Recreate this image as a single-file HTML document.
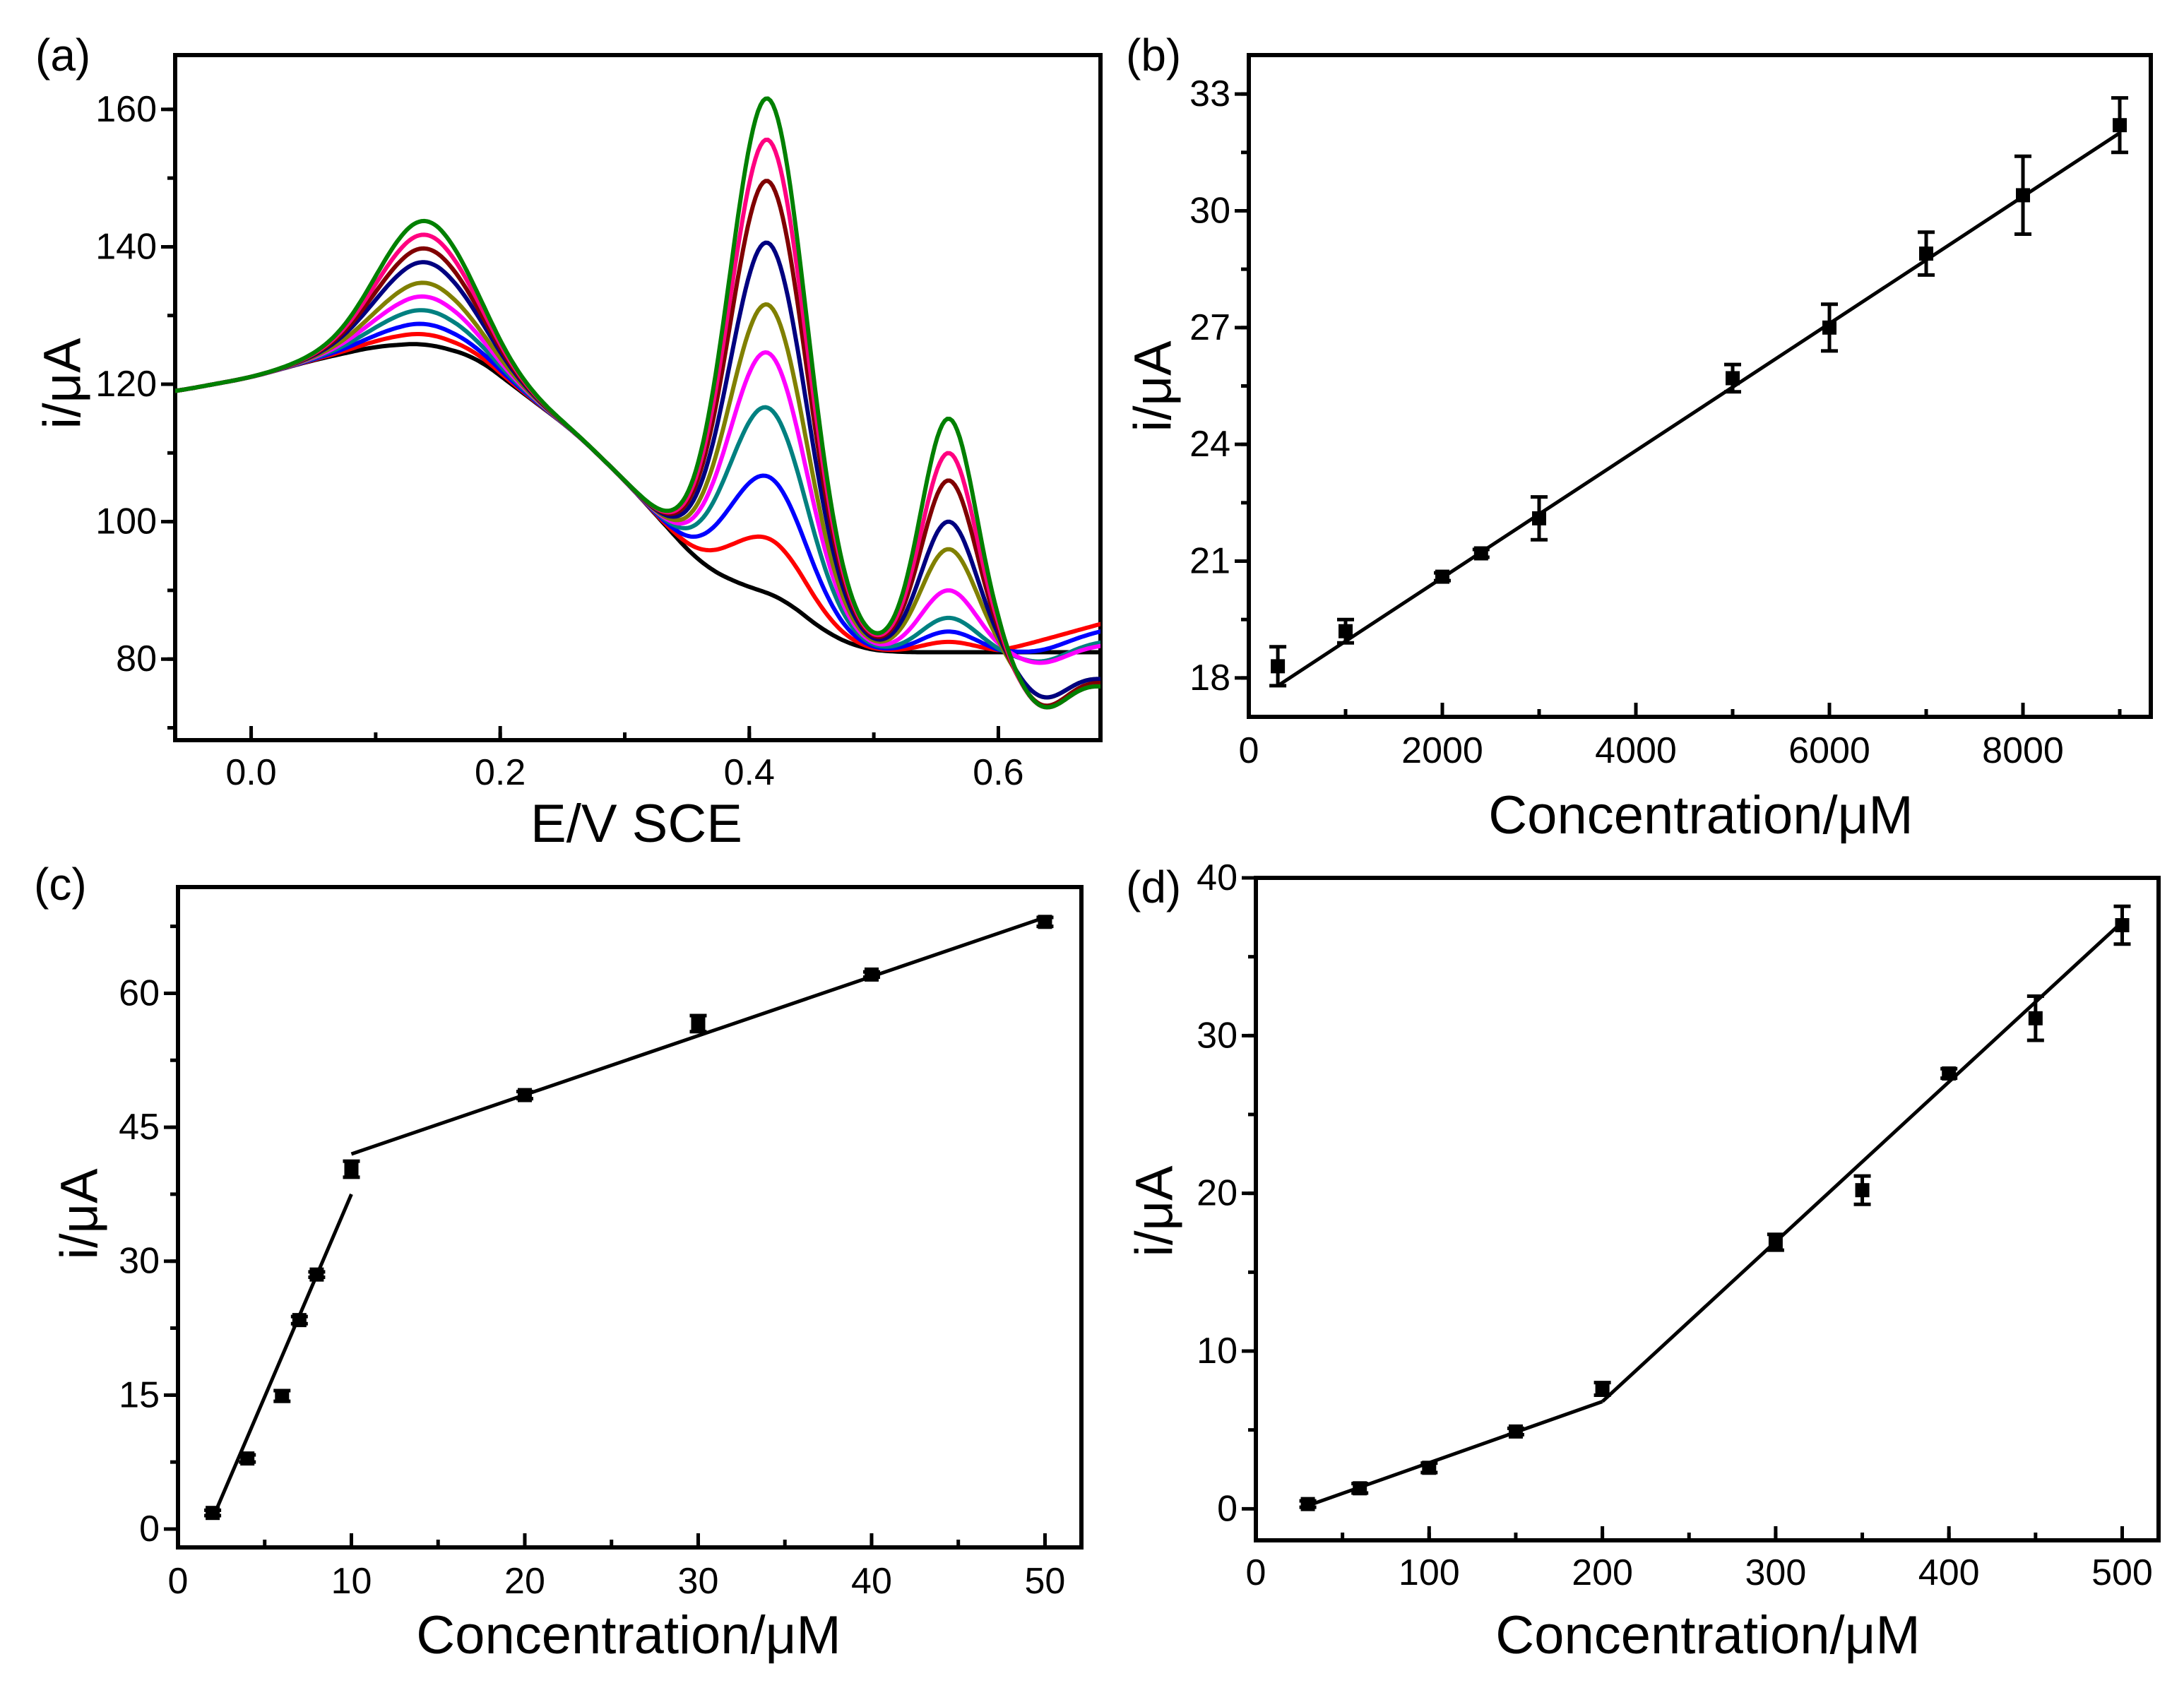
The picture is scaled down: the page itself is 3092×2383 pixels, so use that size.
<!DOCTYPE html>
<html><head><meta charset="utf-8"><title>Electrochemical panels</title>
<style>html,body{margin:0;padding:0;background:#fff}svg{display:block}text{font-family:"Liberation Sans",Arial,sans-serif;fill:#000}</style>
</head><body>
<svg id="fig" xmlns="http://www.w3.org/2000/svg" width="3092" height="2383" viewBox="0 0 3092 2383">
<rect width="3092" height="2383" fill="#fff"/>
<defs>
<clipPath id="clipA"><rect x="248" y="78" width="1310" height="970"/></clipPath>
</defs>
</svg>
<script>
// ---------- Panel (a) data ----------
const aBaseX = [-0.07,-0.06,0,0.05,0.1,0.14,0.18,0.22,0.26,0.3,0.33,0.36,0.39,0.41,0.43,0.46,0.49,0.52,0.6,0.7];
const aBaseY = [118.8,119,121,123.5,125.5,126,124,118.5,113,106,100,94,91,90,88.5,84,81.5,81,81,81];
const aCurveNames = ["black","red","blue","teal","magenta","olive","navy","darkred","pink","green"];
const aColors = ["#000000","#ff0000","#0000ff","#008080","#ff00ff","#808000","#000080","#800000","#ff0080","#008000"];
const aPeak1 = [0,1.5,3,5,7,9,12,14,16,18];
const aPeak2 = [0,8,17,27,35,42,51,60,66,72];
const aPeak3 = [0,1.5,3,5,9,15,19,25,29,34];
const aTail = [0,4,3,1.5,1,-3.5,-3.5,-4,-4.5,-4.5];
const aDip = [0,0,1,2,2,5,5,6,6,6];
const aXTicks = [0.0,0.2,0.4,0.6];
const aXTickLabels = ["0.0","0.2","0.4","0.6"];
const aYTicks = [80,100,120,140,160];
const aYTickLabels = ["80","100","120","140","160"];

// ---------- Panel (b) data ----------
const bX = [300,1000,2000,2400,3000,5000,6000,7000,8000,9000];
const bY = [18.3,19.2,20.6,21.2,22.1,25.7,27.0,28.9,30.4,32.2];
const bErr = [0.5,0.3,0.1,0.1,0.55,0.35,0.6,0.55,1.0,0.7];
const bFitX = [300,9000];
const bFitY = [17.8,32.0];
const bXTicks = [0,2000,4000,6000,8000];
const bXTickLabels = ["0","2000","4000","6000","8000"];
const bYTicks = [18,21,24,27,30,33];
const bYTickLabels = ["18","21","24","27","30","33"];

// ---------- Panel (c) data ----------
const cX = [2,4,6,7,8,10,20,30,40,50];
const cY = [1.8,7.9,14.9,23.4,28.5,40.3,48.6,56.6,62.1,68.0];
const cErr = [0.3,0.4,0.6,0.4,0.3,0.9,0.4,0.9,0.3,0.5];
const cFit1X = [2,10];
const cFit1Y = [1.2,37.5];
const cFit2X = [10,50];
const cFit2Y = [42,68.5];
const cXTicks = [0,10,20,30,40,50];
const cXTickLabels = ["0","10","20","30","40","50"];
const cYTicks = [0,15,30,45,60];
const cYTickLabels = ["0","15","30","45","60"];

// ---------- Panel (d) data ----------
const dX = [30,60,100,150,200,300,350,400,450,500];
const dY = [0.3,1.3,2.6,4.9,7.6,16.9,20.2,27.6,31.1,37.0];
const dErr = [0.2,0.3,0.3,0.2,0.4,0.5,0.9,0.3,1.4,1.2];
const dFit1X = [30,200];
const dFit1Y = [0.2,6.8];
const dFit2X = [200,500];
const dFit2Y = [6.8,37.2];
const dXTicks = [0,100,200,300,400,500];
const dXTickLabels = ["0","100","200","300","400","500"];
const dYTicks = [0,10,20,30,40];
const dYTickLabels = ["0","10","20","30","40"];

const NS = "http://www.w3.org/2000/svg";
const svg = document.getElementById("fig");
function mk(tag, attrs, parent) {
  const e = document.createElementNS(NS, tag);
  for (const k in attrs) e.setAttribute(k, attrs[k]);
  (parent || svg).appendChild(e);
  return e;
}
function linScale(d0, d1, r0, r1) { return v => r0 + (v - d0) * (r1 - r0) / (d1 - d0); }

function drawAxes(p) {
  const g = mk("g", {});
  
  
  const sx = linScale(p.xmin, p.xmax, p.L, p.R);
  const sy = linScale(p.ymin, p.ymax, p.B, p.T);
  for (let v = p.xMinorStart; v <= p.xmax + 1e-9; v += p.xMinor) {
    const x = sx(v);
    if (x <= p.L + 2 || x >= p.R - 2) continue;
    const t = mk("line", {x1:x, x2:x, y1:p.B, y2:p.B-11, stroke:"#000", "stroke-width":5}, g);
    
    
  }
  for (let v = p.yMinorStart; v <= p.ymax + 1e-9; v += p.yMinor) {
    const y = sy(v);
    if (y >= p.B - 2 || y <= p.T + 2) continue;
    const t = mk("line", {x1:p.L, x2:p.L-11, y1:y, y2:y, stroke:"#000", "stroke-width":5}, g);
    
    
  }
  p.xTicks.forEach((v, i) => {
    const x = sx(v);
    const t = mk("line", {x1:x, x2:x, y1:p.B, y2:p.B-20, stroke:"#000", "stroke-width":5}, g);
    
    
    const tx = mk("text", {x:x, y:p.xLabelY, "font-size":52, "text-anchor":"middle", "dominant-baseline":"central"}, g);
    tx.textContent = p.xTickLabels[i];
    
    
  });
  p.yTicks.forEach((v, i) => {
    const y = sy(v);
    const t = mk("line", {x1:p.L, x2:p.L-20, y1:y, y2:y, stroke:"#000", "stroke-width":5}, g);
    
    
    const tx = mk("text", {x:p.L-26, y:y, "font-size":52, "text-anchor":"end", "dominant-baseline":"central"}, g);
    tx.textContent = p.yTickLabels[i];
    
    
  });
  const fr = mk("rect", {x:p.L, y:p.T, width:p.R-p.L, height:p.B-p.T, fill:"none", stroke:"#000", "stroke-width":6}, g);
  
  
  const xt = mk("text", {x:p.xTitleX, y:p.xTitleY, "font-size":p.xTitleSize, "text-anchor":"middle"}, g);
  xt.textContent = p.xTitle;
  
  
  const yt = mk("text", {x:0, y:0, "font-size":74, "text-anchor":"middle", "dominant-baseline":"central", transform:`translate(${p.yTitleX},${p.yTitleY}) rotate(-90)`}, g);
  yt.textContent = "i/μA";
  
  
  const pl = mk("text", {x:p.tagX, y:p.tagY, "font-size":64}, g);
  pl.textContent = "(" + p.id + ")";
  
  
  return {g, sx, sy};
}

function drawScatter(ax, xs, ys, errs) {
  xs.forEach((v, i) => {
    const x = ax.sx(v), y = ax.sy(ys[i]);
    const y1 = ax.sy(ys[i] - errs[i]), y2 = ax.sy(ys[i] + errs[i]);
    const eb = mk("path", {d:`M${x},${y1}V${y2}M${x-12},${y1}H${x+12}M${x-12},${y2}H${x+12}`, stroke:"#000", "stroke-width":5, fill:"none"}, ax.g);
    
    
    const m = mk("rect", {x:x-10, y:y-10, width:20, height:20, fill:"#000"}, ax.g);
    
    
  });
}
function drawFit(ax, xs, ys) {
  const l = mk("line", {x1:ax.sx(xs[0]), y1:ax.sy(ys[0]), x2:ax.sx(xs[1]), y2:ax.sy(ys[1]), stroke:"#000", "stroke-width":5}, ax.g);
  
  
}

// Panel a
const A = drawAxes({id:"a", L:248, R:1558, T:78, B:1048, xmin:-0.061, xmax:0.682, ymin:68.2, ymax:167.9,
  xTicks:aXTicks, xTickLabels:aXTickLabels, yTicks:aYTicks, yTickLabels:aYTickLabels,
  xMinor:0.1, xMinorStart:-0.1, yMinor:10, yMinorStart:70, xLabelY:1094,
  xTitle:"E/V SCE", xTitleX:901, xTitleY:1192, xTitleSize:76, yTitleX:88, yTitleY:543, tagX:50, tagY:100});
function interpBase(x) {
  for (let i = 0; i < aBaseX.length - 1; i++) {
    if (x <= aBaseX[i+1]) { const t = (x - aBaseX[i]) / (aBaseX[i+1] - aBaseX[i]); return aBaseY[i] + t * (aBaseY[i+1] - aBaseY[i]); }
  }
  return aBaseY[aBaseY.length-1];
}
function smoothBase(x) {
  let s = 0, n = 0;
  for (let d = -0.015; d <= 0.0151; d += 0.003) { s += interpBase(x + d); n++; }
  return s / n;
}
const gauss = (x, m, s) => Math.exp(-0.5 * ((x - m) / s) ** 2);
const cg = mk("g", {"clip-path":"url(#clipA)"}, A.g);


aCurveNames.forEach((name, k) => {
  let d = "";
  for (let x = -0.065; x <= 0.69; x += 0.002) {
    const y = smoothBase(x) + aPeak1[k]*gauss(x,0.14,0.038) + aPeak2[k]*gauss(x,0.415,0.031) + aPeak3[k]*gauss(x,0.56,0.022)
      - aDip[k]*gauss(x,0.635,0.02) + aTail[k]*Math.max(0,(x-0.6)/0.08);
    d += (d ? "L" : "M") + A.sx(x).toFixed(1) + "," + A.sy(y).toFixed(1);
  }
  const p = mk("path", {d:d, fill:"none", stroke:aColors[k], "stroke-width":6, "stroke-linejoin":"round"}, cg);
  
  
});

// Panel b
const Bx = drawAxes({id:"b", L:1768, R:3045, T:78, B:1015, xmin:0, xmax:9321, ymin:17, ymax:34,
  xTicks:bXTicks, xTickLabels:bXTickLabels, yTicks:bYTicks, yTickLabels:bYTickLabels,
  xMinor:1000, xMinorStart:1000, yMinor:1.5, yMinorStart:16.5, xLabelY:1063,
  xTitle:"Concentration/μM", xTitleX:2408, xTitleY:1180, xTitleSize:76, yTitleX:1632, yTitleY:547, tagX:1594, tagY:100});
drawFit(Bx, bFitX, bFitY);
drawScatter(Bx, bX, bY, bErr);

// Panel c
const Cx = drawAxes({id:"c", L:252, R:1531, T:1256, B:2191, xmin:0, xmax:52.1, ymin:-2.06, ymax:71.9,
  xTicks:cXTicks, xTickLabels:cXTickLabels, yTicks:cYTicks, yTickLabels:cYTickLabels,
  xMinor:5, xMinorStart:5, yMinor:7.5, yMinorStart:7.5, xLabelY:2239,
  xTitle:"Concentration/μM", xTitleX:890, xTitleY:2341, xTitleSize:76, yTitleX:112, yTitleY:1719, tagX:48, tagY:1274});
drawFit(Cx, cFit1X, cFit1Y);
drawFit(Cx, cFit2X, cFit2Y);
drawScatter(Cx, cX, cY, cErr);

// Panel d
const Dx = drawAxes({id:"d", L:1778, R:3056, T:1243, B:2181, xmin:0, xmax:521, ymin:-2.0, ymax:40,
  xTicks:dXTicks, xTickLabels:dXTickLabels, yTicks:dYTicks, yTickLabels:dYTickLabels,
  xMinor:50, xMinorStart:50, yMinor:5, yMinorStart:5, xLabelY:2227,
  xTitle:"Concentration/μM", xTitleX:2418, xTitleY:2341, xTitleSize:76, yTitleX:1634, yTitleY:1715, tagX:1594, tagY:1278});
drawFit(Dx, dFit1X, dFit1Y);
drawFit(Dx, dFit2X, dFit2Y);
drawScatter(Dx, dX, dY, dErr);
</script>
</body></html>
